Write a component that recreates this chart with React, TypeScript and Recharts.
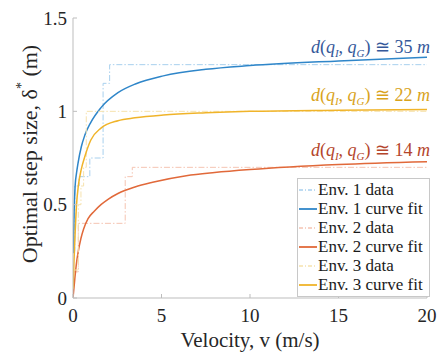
import { LineChart, Line, XAxis, YAxis, Legend, Customized } from "recharts";

// step data (velocity, step size)
const env1DataV = [0, 0.1, 0.35, 0.95, 1.7, 2.07, 20];
const env1DataY = [0.25, 0.6, 0.65, 0.75, 1.15, 1.25, 1.25];
const env2DataV = [0, 0.3, 2.95, 3.35, 20];
const env2DataY = [0.14, 0.4, 0.65, 0.7, 0.7];
const env3DataV = [0, 0.3, 0.45, 0.6, 0.75, 20];
const env3DataY = [0.15, 0.5, 0.6, 0.7, 1.0, 1.0];

// curve fits
const env1FitV = [0.02, 0.06, 0.12, 0.2, 0.28, 0.47, 0.66, 1.0, 1.58, 2.54, 3.56, 5.1, 7.5, 10, 15, 20];
const env1FitY = [0.24, 0.45, 0.6, 0.67, 0.72, 0.81, 0.87, 0.94, 1.02, 1.1, 1.148, 1.19, 1.225, 1.245, 1.27, 1.29];
const env2FitV = [0, 0.1, 0.2, 0.28, 0.45, 0.6, 0.85, 1.2, 1.58, 2.0, 2.54, 3.5, 4.5, 6.4, 8, 10, 15, 20];
const env2FitY = [0, 0.1, 0.19, 0.24, 0.32, 0.37, 0.425, 0.465, 0.5, 0.53, 0.56, 0.595, 0.62, 0.655, 0.672, 0.688, 0.715, 0.73];
const env3FitV = [0.01, 0.05, 0.1, 0.2, 0.3, 0.47, 0.66, 1.0, 1.58, 2.54, 3.5, 5.1, 7.5, 10, 15, 20];
const env3FitY = [0.05, 0.18, 0.3, 0.5, 0.6, 0.69, 0.755, 0.845, 0.91, 0.95, 0.965, 0.98, 0.992, 1.0, 1.006, 1.01];

const xTicks = [0, 5, 10, 15, 20];
const yTicks = [0, 0.5, 1, 1.5];
const seriesNames = [
  "Env. 1 data",
  "Env. 1 curve fit",
  "Env. 2 data",
  "Env. 2 curve fit",
  "Env. 3 data",
  "Env. 3 curve fit",
];
const distLabels = ["35", "22", "14"];

const zip = (vs: number[], ys: number[]) => vs.map((v, i) => ({ v, y: ys[i] }));

const seriesData = [
  zip(env1DataV, env1DataY),
  zip(env1FitV, env1FitY),
  zip(env2DataV, env2DataY),
  zip(env2FitV, env2FitY),
  zip(env3DataV, env3DataY),
  zip(env3FitV, env3FitY),
];

const FONT = "'Liberation Serif', serif";
const AXIS = "#bdbdbd";
const DASH = "6 2 1.5 2";
const styles = [
  { stroke: "#a8d0ee", width: 1, dash: DASH, type: "stepAfter" },
  { stroke: "#2f86c9", width: 1.5, dash: undefined, type: "monotone" },
  { stroke: "#f5c4b2", width: 1, dash: DASH, type: "stepAfter" },
  { stroke: "#e1693a", width: 1.5, dash: undefined, type: "monotone" },
  { stroke: "#f6e2ad", width: 1, dash: DASH, type: "stepAfter" },
  { stroke: "#f0b42a", width: 1.5, dash: undefined, type: "monotone" },
];
const labelColors = ["#35589a", "#d9a31c", "#b4452b"];
const labelBaselines = [53, 101, 156];

function LegendBox() {
  return (
    <div
      style={{
        border: "1px solid #c8c8c8",
        background: "#fff",
        padding: "1px 4px 2px 1px",
        fontFamily: FONT,
        fontSize: 17,
        color: "#1a1a1a",
        lineHeight: "19px",
        width: 126,
        boxSizing: "content-box",
      }}
    >
      {seriesNames.map((name, i) => (
        <div key={name} style={{ display: "flex", alignItems: "center", whiteSpace: "nowrap" }}>
          <svg width={18} height={10} style={{ marginRight: 1 }}>
            <line
              x1={0}
              y1={5}
              x2={18}
              y2={5}
              stroke={styles[i].stroke}
              strokeWidth={styles[i].width + 0.3}
              strokeDasharray={styles[i].dash ? "4 2 1 2" : undefined}
            />
          </svg>
          <span>{name}</span>
        </div>
      ))}
    </div>
  );
}

function DistanceLabels() {
  return (
    <g fontSize={18}>
      {distLabels.map((d, i) => (
        <text key={d} x={430} y={labelBaselines[i]} textAnchor="end" fill={labelColors[i]}>
          <tspan fontStyle="italic">d</tspan>
          <tspan>(</tspan>
          <tspan fontStyle="italic">q</tspan>
          <tspan fontStyle="italic" fontSize={11} dy={4}>I</tspan>
          <tspan dy={-4}>, </tspan>
          <tspan fontStyle="italic">q</tspan>
          <tspan fontStyle="italic" fontSize={11} dy={4}>G</tspan>
          <tspan dy={-4}>) ≅ {d} </tspan>
          <tspan fontStyle="italic">m</tspan>
        </text>
      ))}
    </g>
  );
}

function YTitle({ viewBox }: any) {
  const cx = 29;
  const cy = viewBox.y + viewBox.height / 2 - 4;
  return (
    <text
      x={cx}
      y={cy}
      transform={`rotate(-90, ${cx}, ${cy})`}
      textAnchor="middle"
      dominantBaseline="central"
      fontSize={22}
      fill="#262626"
    >
      Optimal step size, δ<tspan fontSize={14} dy={-8}>*</tspan>
      <tspan dy={8}> (m)</tspan>
    </text>
  );
}

const tickStyle = { fill: "#262626", fontSize: 19 };

export default function App() {
  return (
    <div
      style={{
        position: "absolute",
        left: 0,
        top: 0,
        width: 445,
        height: 352,
        background: "#fff",
        fontFamily: FONT,
      }}
    >
      <style>{`.recharts-wrapper svg text, .recharts-wrapper svg tspan { font-family: 'Liberation Serif', serif !important; }`}</style>
      <LineChart width={445} height={352} margin={{ top: 18, right: 18, left: 0, bottom: 0 }}>
        <XAxis
          type="number"
          dataKey="v"
          domain={[0, 20]}
          ticks={xTicks}
          allowDataOverflow
          height={54}
          stroke={AXIS}
          tickSize={-4}
          tickMargin={15}
          tick={tickStyle}
          label={{
            value: "Velocity, v (m/s)",
            position: "insideBottom",
            offset: 5,
            fill: "#262626",
            fontSize: 21,
          }}
        />
        <YAxis
          type="number"
          domain={[0, 1.5]}
          ticks={yTicks}
          allowDataOverflow
          width={73}
          stroke={AXIS}
          tickSize={-4}
          tickMargin={10}
          tick={tickStyle}
          label={<YTitle />}
        />
        {seriesData.map((data, i) => (
          <Line
            key={seriesNames[i]}
            data={data}
            dataKey="y"
            name={seriesNames[i]}
            type={styles[i].type as any}
            stroke={styles[i].stroke}
            strokeWidth={styles[i].width}
            strokeDasharray={styles[i].dash}
            dot={false}
            activeDot={false}
            isAnimationActive={false}
          />
        ))}
        <Customized component={<DistanceLabels />} />
        <Legend
          layout="vertical"
          align="center"
          verticalAlign="middle"
          content={() => <LegendBox />}
          wrapperStyle={{ left: 297, top: 178, width: "auto" }}
        />
      </LineChart>
    </div>
  );
}
